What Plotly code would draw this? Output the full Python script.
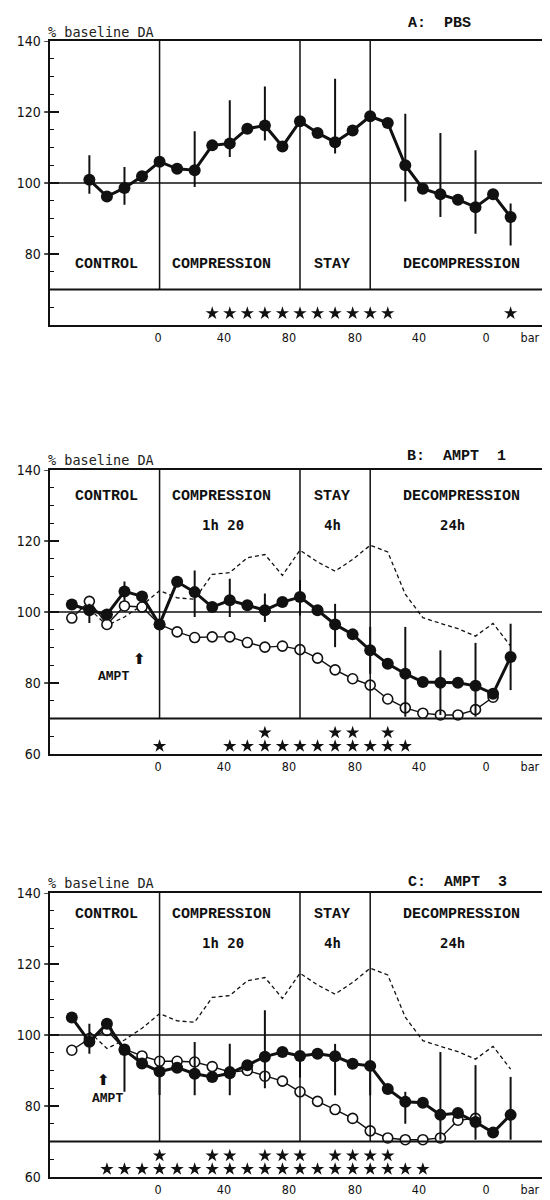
import plotly.graph_objects as go

# ---------------- data ----------------
t_pbs = list(range(0, 25))          # 20-min samples, PBS group
t_ampt = list(range(-1, 25))        # AMPT groups start one sample earlier

pbs_mean = [100.9, 96.2, 98.6, 101.9, 106.0, 104.0, 103.6, 110.6, 111.1, 115.3, 116.2, 110.3,
            117.4, 114.1, 111.5, 114.8, 118.8, 116.9, 105.0, 98.4, 96.8, 95.3, 93.2, 96.8, 90.4]
pbs_hi = [107.8, None, 104.5, None, None, None, 114.6, None, 123.3, None, 127.2, None,
          None, None, 129.4, None, None, None, 119.5, None, 114.1, None, 109.2, None, 94.2]
pbs_lo = [97.0, None, 93.9, None, None, None, 98.9, None, 107.3, None, 112.0, None,
          None, None, 108.3, None, None, None, 94.8, None, 90.4, None, 85.7, None, 82.4]

ampt1_fill = [102.1, 100.5, 99.3, 105.8, 104.4, 96.5, 108.5, 105.6, 101.4, 103.3, 101.9, 100.5, 102.8,
              104.2, 100.5, 96.5, 93.7, 89.2, 85.4, 82.6, 80.3, 80.1, 80.1, 79.2, 77.0, 87.3]
ampt1_hi = [None, 102.3, None, 108.6, None, None, None, 111.7, None, 109.4, None, 105.2, None,
            109.0, None, 102.3, None, 95.8, None, 95.8, None, 89.2, None, 91.3, None, 96.7]
ampt1_lo = [None, 96.9, None, 103.0, None, None, None, 98.6, None, 98.6, None, 97.2, None,
            99.0, None, 90.1, None, 82.6, None, 70.5, None, 71.0, None, 70.5, None, 78.0]
ampt1_open = [98.3, 103.0, 96.5, 101.7, 101.4, 96.5, 94.4, 92.8, 93.0, 93.0, 91.4, 90.1, 90.4,
              89.4, 87.0, 83.7, 81.2, 79.4, 75.5, 73.0, 71.5, 71.0, 71.0, 72.5, 76.0, None]

ampt3_fill = [104.9, 98.1, 103.2, 95.8, 92.0, 89.7, 90.8, 89.1, 88.2, 89.2, 91.5, 93.9, 95.2,
              94.1, 94.7, 94.0, 91.9, 91.3, 84.8, 81.2, 80.9, 77.5, 78.0, 75.5, 72.5, 77.5]
ampt3_hi = [None, 103.2, None, 95.8, None, 89.7, None, 98.0, None, 97.5, None, 107.0, None,
            94.1, None, 97.5, None, 91.3, None, 84.0, None, 95.2, None, 91.5, None, 88.2]
ampt3_lo = [None, 94.7, None, 84.0, None, 83.1, None, 83.0, None, 83.0, None, 85.0, None,
            88.0, None, 83.0, None, 83.0, None, 75.0, None, 70.5, None, 70.5, None, 70.5]
ampt3_open = [95.7, 99.0, 101.3, 96.0, 94.1, 92.6, 92.6, 92.4, 91.1, 89.6, 90.0, 88.4, 87.0,
              84.0, 81.3, 79.0, 76.5, 73.0, 71.0, 70.5, 70.5, 71.0, 76.0, 76.5, None, None]

stars_pbs = [7, 8, 9, 10, 11, 12, 13, 14, 15, 16, 17, 24]
stars_ampt1_up = [10, 14, 15, 17]
stars_ampt1_low = [4, 8, 9, 10, 11, 12, 13, 14, 15, 16, 17, 18]
stars_ampt3_up = [4, 7, 8, 10, 11, 12, 14, 15, 16, 17]
stars_ampt3_low = [1, 2, 3, 4, 5, 6, 7, 8, 9, 10, 11, 12, 13, 14, 15, 16, 17, 18, 19]

phase_bounds = [4, 12, 16]
pressure_labels = ["0", "40", "80", "80", "40", "0", "bar"]
pressure_pos = [3.91, 7.67, 11.37, 15.13, 18.78, 22.6, 25.1]
y_ticks = [60, 80, 100, 120, 140]

panel_titles = ["A:  PBS", "B:  AMPT  1", "C:  AMPT  3"]
phase_names = ["CONTROL", "COMPRESSION", "STAY", "DECOMPRESSION"]
phase_durations = ["1h 20", "4h", "24h"]

# ---------------- figure ----------------
W, H = 550, 1200
PX_LEFT = 41.7
X_RANGE = [-2.26, 26.7]
Y_RANGE = [60, 140]
tops_px = [33, 462, 885]          # pixel row of the 140 line per panel
PX_PER_UNIT = 3.55

fig = go.Figure()
BLACK = "#111111"
MONO_B = "Liberation Mono, Courier New, monospace"
SANS_N = "Liberation Sans Narrow, DejaVu Sans Condensed, Liberation Sans, Arial"


def yfrac(v):
    return (v - Y_RANGE[0]) / (Y_RANGE[1] - Y_RANGE[0])


def xfrac(v):
    return (v - X_RANGE[0]) / (X_RANGE[1] - X_RANGE[0])


def err(mean, hi, lo):
    plus, minus = [], []
    for m, h, l in zip(mean, hi, lo):
        plus.append(0 if (h is None or m is None) else max(h - m, 0))
        minus.append(0 if (l is None or m is None) else max(m - l, 0))
    return plus, minus


def add_filled(t, mean, hi, lo, xa, ya):
    plus, minus = err(mean, hi, lo)
    fig.add_trace(go.Scatter(
        x=t, y=mean, xaxis=xa, yaxis=ya, mode="lines+markers",
        line=dict(color=BLACK, width=3),
        marker=dict(size=12, color=BLACK),
        error_y=dict(type="data", array=plus, arrayminus=minus, symmetric=False,
                     color=BLACK, thickness=2, width=0),
        cliponaxis=False, hoverinfo="skip"))


def add_open(t, vals, xa, ya):
    fig.add_trace(go.Scatter(
        x=t, y=vals, xaxis=xa, yaxis=ya, mode="lines+markers",
        line=dict(color=BLACK, width=1.4),
        marker=dict(size=10, color="white", line=dict(color=BLACK, width=1.6)),
        connectgaps=False, hoverinfo="skip"))


def add_dashed(xa, ya):
    fig.add_trace(go.Scatter(
        x=t_pbs, y=pbs_mean, xaxis=xa, yaxis=ya, mode="lines",
        line=dict(color=BLACK, width=1.3, dash="4px,3px"), hoverinfo="skip"))


def add_stars(t, yv, xa, ya):
    fig.add_trace(go.Scatter(
        x=t, y=[yv] * len(t), xaxis=xa, yaxis=ya, mode="markers",
        marker=dict(symbol="star", size=10, color=BLACK, line=dict(width=0)),
        hoverinfo="skip"))


# panel A
add_filled(t_pbs, pbs_mean, pbs_hi, pbs_lo, "x", "y")
add_stars(stars_pbs, 63.3, "x", "y")
# panel B
add_dashed("x2", "y2")
add_open(t_ampt, ampt1_open, "x2", "y2")
add_filled(t_ampt, ampt1_fill, ampt1_hi, ampt1_lo, "x2", "y2")
add_stars(stars_ampt1_up, 66.0, "x2", "y2")
add_stars(stars_ampt1_low, 62.2, "x2", "y2")
# panel C
add_dashed("x3", "y3")
add_open(t_ampt, ampt3_open, "x3", "y3")
add_filled(t_ampt, ampt3_fill, ampt3_hi, ampt3_lo, "x3", "y3")
add_stars(stars_ampt3_up, 66.0, "x3", "y3")
add_stars(stars_ampt3_low, 62.2, "x3", "y3")

layout = dict(width=W, height=H, margin=dict(l=0, r=0, t=0, b=0, autoexpand=False),
              paper_bgcolor="white", plot_bgcolor="white", showlegend=False)

shapes, annotations = [], []
suffixes = ["", "2", "3"]
plot_w = W - PX_LEFT
for i, s in enumerate(suffixes):
    top = tops_px[i]
    bottom = top + 80 * PX_PER_UNIT
    ydom = [1 - bottom / H, 1 - top / H]
    xdom = [PX_LEFT / W, 1.0]
    layout["xaxis" + s] = dict(
        domain=xdom, range=X_RANGE, anchor="y" + s, showgrid=False, zeroline=False,
        showline=True, linecolor=BLACK, linewidth=2, mirror=True,
        tickmode="array", tickvals=pressure_pos, ticktext=pressure_labels, ticks="",
        tickfont=dict(family=SANS_N, size=12.5, color=BLACK), fixedrange=True)
    ylabels = [str(v) if (v != 60 or i > 0) else "" for v in y_ticks]
    layout["yaxis" + s] = dict(
        domain=ydom, range=Y_RANGE, anchor="x" + s, showgrid=False, zeroline=False,
        showline=True, linecolor=BLACK, linewidth=2,
        tickmode="array", tickvals=y_ticks, ticktext=ylabels,
        ticks="inside", ticklen=9, tickwidth=1.5, tickcolor=BLACK,
        minor=dict(dtick=5, tick0=60, ticks="inside", ticklen=4, tickwidth=1.2, tickcolor=BLACK),
        tickfont=dict(family=SANS_N, size=14, color=BLACK), ticklabelstandoff=4, fixedrange=True)
    xr, yr = "x" + s, "y" + s
    xd, yd = xr + " domain", yr + " domain"
    # outer half of the major y ticks (they cross the axis line)
    for v in y_ticks[1:]:
        shapes.append(dict(type="line", xref=xd, yref=yr, x0=-5.5 / plot_w, x1=0, y0=v, y1=v,
                           line=dict(color=BLACK, width=1.5)))
    # 70 line and 100 line
    shapes.append(dict(type="line", xref=xd, yref=yr, x0=0, x1=1, y0=70, y1=70,
                       line=dict(color=BLACK, width=2)))
    shapes.append(dict(type="line", xref=xd, yref=yr, x0=0, x1=1 if i == 0 else 0.974,
                       y0=100, y1=100, line=dict(color=BLACK, width=1.5)))
    for b in phase_bounds:
        shapes.append(dict(type="line", xref=xr, yref=yr, x0=b, x1=b, y0=70, y1=140,
                           line=dict(color=BLACK, width=1.5)))
    # titles (explicit anchors: domain-referenced annotations otherwise snap to the nearest side)
    title_y = [144.8, 143.7, 142.9][i]
    title_x = [19.95, 20.9, 21.0][i]
    annotations.append(dict(text="<b>%s</b>" % panel_titles[i], x=xfrac(title_x), y=yfrac(title_y),
                            xref=xd, yref=yd, xanchor="center", yanchor="middle", showarrow=False,
                            font=dict(family=MONO_B, size=15, color=BLACK)))
    annotations.append(dict(text="% baseline DA", x=xfrac(-2.45), y=yfrac([142.6, 142.8, 142.7][i]),
                            xref=xd, yref=yd, xanchor="left", yanchor="middle", showarrow=False,
                            font=dict(family="DejaVu Sans Mono, monospace", size=13.5, color="#222")))
    name_y = [77.0, 132.6, 134.0][i]
    name_x = [1.0, 7.5, 13.85, 21.2]
    for nm, nx in zip(phase_names, name_x):
        annotations.append(dict(text="<b>%s</b>" % nm, x=nx, y=name_y, xref=xr, yref=yr, showarrow=False,
                                font=dict(family=MONO_B, size=15, color=BLACK)))
    if i > 0:
        dur_y = [124.4, 125.8][i - 1]
        for d, dx in zip(phase_durations, [7.6, 13.85, 20.7]):
            annotations.append(dict(text="<b>%s</b>" % d, x=dx, y=dur_y, xref=xr, yref=yr, showarrow=False,
                                    font=dict(family="DejaVu Sans Mono, monospace", size=14, color=BLACK)))
        # AMPT injection arrow
        annotations.append(dict(text="<b>\u2B06</b>", x=[2.85, 0.8][i - 1], y=[86.9, 87.3][i - 1],
                                xref=xr, yref=yr, showarrow=False,
                                font=dict(family="DejaVu Sans, sans-serif", size=15, color=BLACK)))
        annotations.append(dict(text="<b>AMPT</b>", x=[1.35, 1.05][i - 1], y=[81.7, 82.0][i - 1],
                                xref=xr, yref=yr, showarrow=False,
                                font=dict(family=MONO_B, size=13, color=BLACK)))

layout["shapes"] = shapes
layout["annotations"] = annotations
fig.update_layout(**layout)
fig.write_html("out.html")
